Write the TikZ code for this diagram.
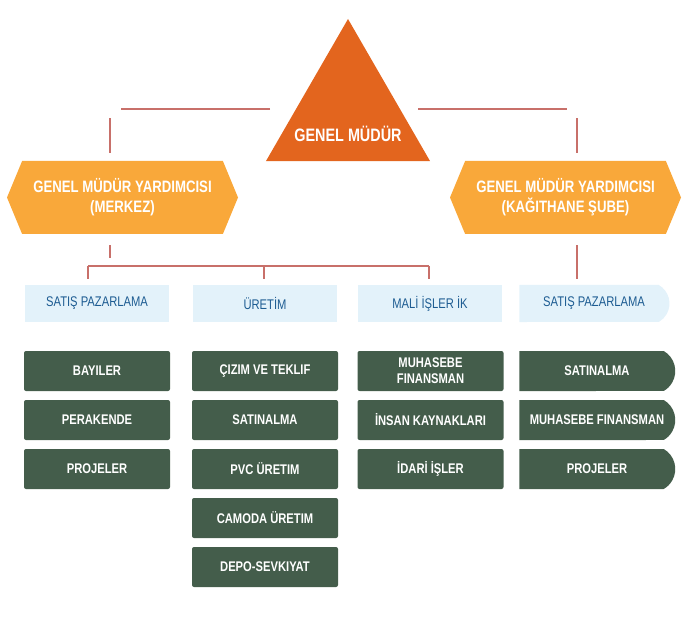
\documentclass[tikz,border=0pt]{standalone}
\usepackage{fontspec}
\newfontfamily\orgfont{Liberation Sans}[FakeStretch=0.8]
\usetikzlibrary{shapes.misc}
\usetikzlibrary{shapes.symbols}
\usetikzlibrary{shapes.geometric}
\definecolor{gmorange}{HTML}{E3651E}
\definecolor{yrdorange}{HTML}{F9A83A}
\definecolor{linkred}{HTML}{C8706A}
\definecolor{deptblue}{HTML}{E3F2FA}
\definecolor{depttext}{HTML}{1D5C92}
\definecolor{unitgreen}{HTML}{445D4B}
\tikzset{
    link/.style = {draw=linkred, line width=2pt},
    gmtri/.style = {regular polygon, regular polygon sides=3, minimum size=189.4pt, inner sep=0pt, fill=gmorange},
    gmtext/.style = {text=white, font=\orgfont\bfseries\fontsize{18}{20}\selectfont},
    yrdbox/.style = {signal, signal to=east and west, signal pointer angle=135, minimum width=231pt, minimum height=73pt, inner sep=0pt, fill=yrdorange, text=white, align=center, font=\orgfont\bfseries\fontsize{16.5}{20}\selectfont},
    dept/.style = {rectangle, minimum width=144pt, minimum height=37pt, inner sep=0pt, fill=deptblue, text=depttext, font=\orgfont\fontsize{14}{16}\selectfont},
    deptr/.style = {rounded rectangle, rounded rectangle west arc=none, rounded rectangle arc length=120, minimum width=150pt, minimum height=37pt, inner sep=0pt, fill=deptblue, text=depttext, font=\orgfont\fontsize{14}{16}\selectfont},
    unit/.style = {rectangle, rounded corners=2pt, minimum width=146pt, minimum height=40pt, inner sep=0pt, fill=unitgreen, text=white, align=center, font=\orgfont\bfseries\fontsize{14}{16}\selectfont},
    unitr/.style = {rounded rectangle, rounded rectangle west arc=none, rounded rectangle arc length=120, minimum width=156pt, minimum height=40pt, inner sep=0pt, fill=unitgreen, text=white, font=\orgfont\bfseries\fontsize{14}{16}\selectfont}
}
\begin{document}
\begin{tikzpicture}[x=1pt, y=-1pt]
  \useasboundingbox (0,0) rectangle (682,617);

  % top
  \node[gmtri] (tri) at (348,113.7) {};
  \node[gmtext] (gm) at (348,134) {GENEL MÜDÜR};
  \node[yrdbox] (yrdl) at (122.5,197.5) {GENEL MÜDÜR YARDIMCISI\\(MERKEZ)};
  \node[yrdbox] (yrdr) at (565.5,197.5) {GENEL MÜDÜR YARDIMCISI\\(KAĞITHANE ŞUBE)};

  % departments
  \node[dept] (satis) at (97,303.5) {SATIŞ PAZARLAMA};
  \node[dept] (uretim) at (265,303.5) {ÜRETİM};
  \node[dept] (mali) at (430,303.5) {MALİ İŞLER İK};
  \node[deptr] (satisk) at (594,303.5) {SATIŞ PAZARLAMA};

  % units
  \node[unit] (bayi) at (97,371) {BAYILER};
  \node[unit] (perak) at (97,420) {PERAKENDE};
  \node[unit] (proj) at (97,469) {PROJELER};
  \node[unit] (cizim) at (265,371) {ÇIZIM VE TEKLIF};
  \node[unit] (satin) at (265,420) {SATINALMA};
  \node[unit] (pvc) at (265,469) {PVC ÜRETIM};
  \node[unit] (camoda) at (265,518) {CAMODA ÜRETIM};
  \node[unit] (depo) at (265,567) {DEPO-SEVKIYAT};
  \node[unit] (muh) at (430.5,371) {MUHASEBE\\FINANSMAN};
  \node[unit] (insan) at (430.5,420) {İNSAN KAYNAKLARI};
  \node[unit] (idari) at (430.5,469) {İDARİ İŞLER};
  \node[unitr] (satink) at (597,371) {SATINALMA};
  \node[unitr] (muhk) at (597,420) {MUHASEBE FINANSMAN};
  \node[unitr] (projk) at (597,469) {PROJELER};

  % link ends
  \coordinate (gml) at (270,109);
  \coordinate (gmll) at (121,109);
  \coordinate (gmr) at (418,109);
  \coordinate (gmrr) at (567,109);
  \coordinate (bar) at (110,258);
  \coordinate (barl) at (88,265.7);
  \coordinate (barr) at (429,265.7);
  \coordinate (barm) at (264,265.7);

  \draw[link] (gml) -- (gmll);
  \draw[link] (gmr) -- (gmrr);
  \draw[link] (yrdl.north -| bar) ++(0,-8) -- ++(0,-35);
  \draw[link] (yrdr.north -| satisk.north) ++(-17,-8) -- ++(0,-35);
  \draw[link] (yrdl.south -| bar) ++(0,11) -- (bar);
  \draw[link] (barl) -- (barr);
  \draw[link] (barl |- satis.north) ++(0,-6) -- (barl);
  \draw[link] (barm |- uretim.north) ++(0,-6) -- (barm);
  \draw[link] (barr |- mali.north) ++(0,-6) -- (barr);
  \draw[link] (yrdr.south -| satisk.north) ++(-17,11) -- ++(0,34);
\end{tikzpicture}
\end{document}
